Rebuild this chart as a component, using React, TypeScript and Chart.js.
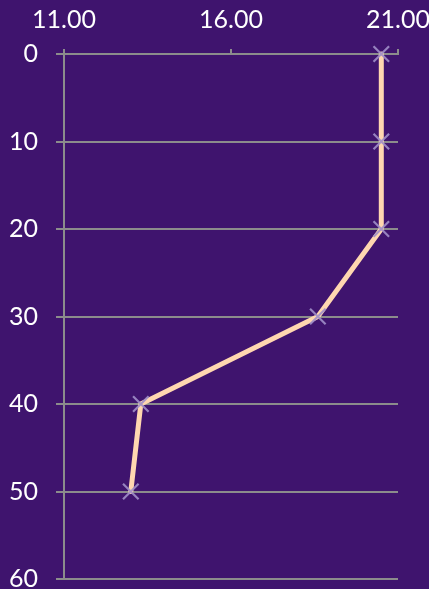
import React, { useEffect, useRef } from "react";
import { Chart, registerables } from "chart.js";

Chart.register(...registerables);

// Depth profile: depth (y, downward) vs measured value (x)
const depths = [0, 10, 20, 30, 40, 50];
const values = [20.5, 20.5, 20.5, 18.6, 13.3, 13.0];

const xMin = 11;
const xMax = 21;
const xStep = 5;
const yMin = 0;
const yMax = 60;
const yStep = 10;

const BG = "#3f146e";
const GRID = "#8c8c8c";
const LINE = "#ffd7b0";
const MARKER = "rgba(160,142,200,0.9)";
const FONT = { family: "Lato, 'Open Sans', sans-serif", size: 25 };

const backgroundPlugin = {
  id: "purpleBackground",
  beforeDraw(chart: any) {
    const { ctx, width, height } = chart;
    ctx.save();
    ctx.fillStyle = BG;
    ctx.fillRect(0, 0, width, height);
    ctx.restore();
  },
};

const noOverflow = (scale: any) => {
  scale.paddingLeft = 0;
  scale.paddingRight = 0;
  scale.paddingTop = 0;
  scale.paddingBottom = 0;
};

export default function App() {
  const canvasRef = useRef<HTMLCanvasElement | null>(null);

  useEffect(() => {
    document.body.style.margin = "0";
    const canvas = canvasRef.current;
    if (!canvas) return;
    const chart = new Chart(canvas, {
      type: "line",
      data: {
        datasets: [
          {
            data: depths.map((d, i) => ({ x: values[i], y: d })),
            borderColor: LINE,
            borderWidth: 5,
            tension: 0,
            borderJoinStyle: "round",
            borderCapStyle: "round",
            pointStyle: "crossRot",
            pointRadius: 11,
            pointBorderColor: MARKER,
            pointBorderWidth: 2.2,
            pointBackgroundColor: MARKER,
            fill: false,
            clip: false,
          },
        ],
      },
      options: {
        animation: false,
        responsive: false,
        maintainAspectRatio: false,
        layout: { autoPadding: false, padding: { left: 0, right: 31, top: 0, bottom: 10 } },
        plugins: { legend: { display: false }, tooltip: { enabled: false } },
        scales: {
          x: {
            type: "linear",
            position: "top",
            min: xMin,
            max: xMax,
            ticks: {
              stepSize: xStep,
              color: "#ffffff",
              font: FONT,
              padding: 14,
              maxRotation: 0,
              callback: (v: any) => Number(v).toFixed(2),
            },
            grid: {
              drawOnChartArea: false,
              drawTicks: true,
              tickLength: 5,
              color: GRID,
              lineWidth: 2,
            },
            border: { display: true, color: GRID, width: 2 },
            afterFit: (scale: any) => {
              scale.height = 54;
              noOverflow(scale);
            },
          },
          y: {
            type: "linear",
            reverse: true,
            min: yMin,
            max: yMax,
            ticks: {
              stepSize: yStep,
              color: "#ffffff",
              font: FONT,
              padding: 18,
            },
            grid: {
              color: GRID,
              lineWidth: 2,
              tickLength: 8,
            },
            border: { display: true, color: GRID, width: 2 },
            afterFit: (scale: any) => {
              scale.width = 64;
              noOverflow(scale);
            },
          },
        },
      },
      plugins: [backgroundPlugin],
    } as any);
    return () => chart.destroy();
  }, []);

  return (
    <div style={{ width: 429, height: 589 }}>
      <canvas ref={canvasRef} width={429} height={589} style={{ display: "block" }} />
    </div>
  );
}
